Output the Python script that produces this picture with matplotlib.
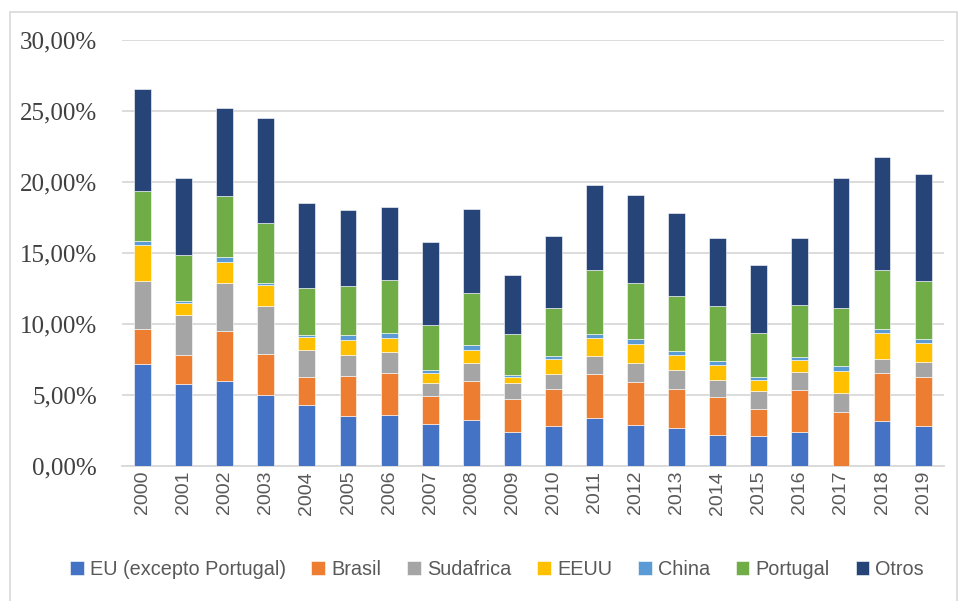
import matplotlib.pyplot as plt
import matplotlib.patches as mpatches
from matplotlib.ticker import FuncFormatter
import numpy as np

years = [str(y) for y in range(2000, 2020)]

# shares in %
eu = [7.19, 5.78, 5.99, 5.00, 4.27, 3.53, 3.60, 2.99, 3.27, 2.40,
      2.81, 3.40, 2.88, 2.71, 2.15, 2.10, 2.41, 0.00, 3.14, 2.81]
brasil = [2.43, 2.07, 3.49, 2.90, 2.00, 2.78, 2.93, 1.93, 2.69, 2.33,
          2.64, 3.11, 3.04, 2.69, 2.71, 1.93, 2.97, 3.77, 3.39, 3.49]
sudafrica = [3.38, 2.81, 3.40, 3.40, 1.91, 1.51, 1.53, 0.90, 1.27, 1.09,
             1.04, 1.25, 1.34, 1.37, 1.18, 1.23, 1.25, 1.40, 0.99, 1.06]
eeuu = [2.57, 0.85, 1.46, 1.46, 0.88, 1.04, 0.99, 0.71, 0.97, 0.47,
        1.03, 1.27, 1.32, 1.08, 1.08, 0.80, 0.87, 1.55, 1.87, 1.30]
china = [0.28, 0.14, 0.38, 0.14, 0.16, 0.35, 0.35, 0.25, 0.35, 0.09,
         0.26, 0.26, 0.34, 0.26, 0.26, 0.24, 0.19, 0.31, 0.28, 0.30]
portugal = [3.51, 3.23, 4.27, 4.20, 3.33, 3.49, 3.67, 3.14, 3.61, 2.95,
            3.35, 4.48, 3.98, 3.87, 3.87, 3.06, 3.65, 4.13, 4.10, 4.06]
otros = [7.20, 5.38, 6.25, 7.38, 5.94, 5.30, 5.19, 5.86, 5.93, 4.14,
         5.10, 6.04, 6.20, 5.87, 4.83, 4.77, 4.70, 9.15, 8.00, 7.57]

labels = ["EU (excepto Portugal)", "Brasil", "Sudafrica", "EEUU", "China", "Portugal", "Otros"]
colors = ["#4472C4", "#ED7D31", "#A5A5A5", "#FFC000", "#5B9BD5", "#70AD47", "#264478"]
series = [eu, brasil, sudafrica, eeuu, china, portugal, otros]

fig = plt.figure(figsize=(9.61, 6.01), dpi=100)
ax = fig.add_axes([0.127, 0.2246, 0.855, 0.7088])

x = np.arange(len(years))
bottom = np.zeros(len(years))
for vals, lab, col in zip(series, labels, colors):
    vals = np.array(vals)
    ax.bar(x, vals, 0.41, bottom=bottom, color=col, label=lab,
           edgecolor="white", linewidth=0.4, zorder=3)
    bottom += vals

ax.set_xlim(-0.5, 19.5)
ax.set_ylim(0, 30)
ax.set_yticks(np.arange(0, 31, 5))
ax.yaxis.set_major_formatter(FuncFormatter(lambda v, p: f"{v:.2f}%".replace(".", ",")))
ax.grid(axis="y", color="#d9d9d9", linewidth=1.3, zorder=0)
for s in ["top", "right", "left"]:
    ax.spines[s].set_visible(False)
ax.spines["bottom"].set_color("#d9d9d9")
ax.spines["bottom"].set_linewidth(1.3)
ax.tick_params(axis="both", length=0)
ax.tick_params(axis="y", pad=18)

ax.set_xticks(x)
ax.set_xticklabels(years, rotation=90, family="Liberation Sans", fontsize=14, color="#595959")
for t in ax.get_yticklabels():
    t.set_family("Liberation Serif")
    t.set_fontsize(18)
    t.set_color("#404040")

fig.legend(loc="center", bbox_to_anchor=(0.517, 0.052), ncol=7, frameon=False,
           prop={"family": "Liberation Sans", "size": 14.3},
           handlelength=0.7, handleheight=0.7, handletextpad=0.3, columnspacing=1.3,
           labelcolor="#595959")

# light chart border
fig.patches.append(mpatches.Rectangle((10 / 961, -5 / 601), 947 / 961, 594 / 601,
                                      transform=fig.transFigure, fill=False,
                                      edgecolor="#d9d9d9", linewidth=1.2))

fig.savefig("out.png", dpi=100)
